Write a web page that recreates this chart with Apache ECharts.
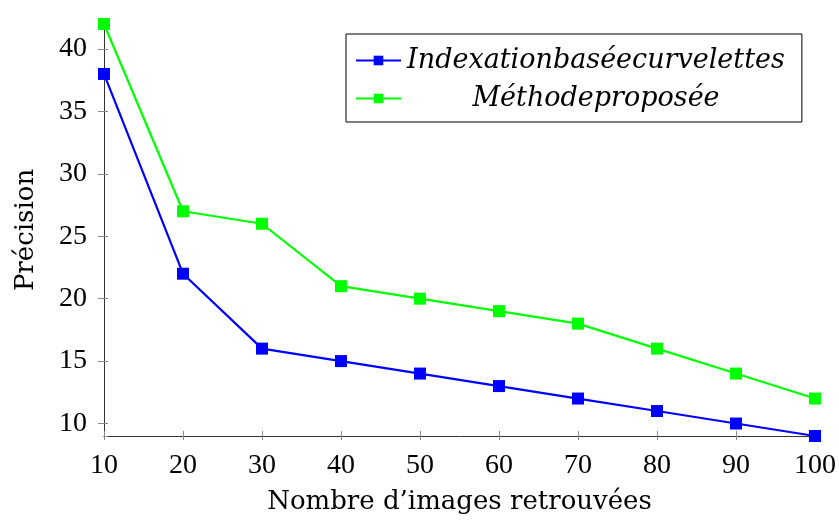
<!DOCTYPE html>
<html>
<head>
<meta charset="utf-8">
<script src="https://cdn.jsdelivr.net/npm/echarts@6/dist/echarts.min.js"></script>
<style>
  html, body { margin: 0; padding: 0; background: #fff; }
  #chart { width: 839px; height: 520px; }
</style>
</head>
<body>
<div id="chart"></div>
<script>
// Number of retrieved images (x) and precision values for each method
const retrieved = [10, 20, 30, 40, 50, 60, 70, 80, 90, 100];
const curveletPrecision = [38, 22, 16, 15, 14, 13, 12, 11, 10, 9];
const proposedPrecision = [42, 27, 26, 21, 20, 19, 18, 16, 14, 12];
const seriesNames = ['Indexationbaséecurvelettes', 'Méthodeproposée'];
const xTitle = 'Nombre d\u2019images retrouvées';
const yTitle = 'Précision';

const serif = '"Liberation Serif", serif';
const wideSerif = '"DejaVu Serif", serif';
const axisColor = '#333';
const tickColor = '#888';

function pairs(xs, ys) { return xs.map((x, i) => [x, ys[i]]); }

const chart = echarts.init(document.getElementById('chart'), null, { renderer: 'canvas' });

const xCommon = { type: 'value', min: 10, max: 100, interval: 10, splitLine: { show: false } };
const yCommon = { type: 'value', min: 9, max: 42, splitNumber: 7, splitLine: { show: false } };

chart.setOption({
  animation: false,
  backgroundColor: '#fff',
  grid: { left: 104, right: 24, top: 24, bottom: 84, containLabel: false, outerBoundsMode: 'none' },
  legend: {
    orient: 'vertical',
    left: 346,
    top: 34,
    padding: [13, 17, 10, 9],
    itemGap: 11,
    itemWidth: 45,
    itemHeight: 12,
    borderColor: '#000',
    borderWidth: 1,
    backgroundColor: '#fff',
    data: seriesNames,
    formatter: name => '{t|' + name + '}',
    textStyle: {
      rich: {
        t: {
          width: 380,
          align: 'center',
          fontFamily: wideSerif,
          fontStyle: 'italic',
          fontSize: 27,
          color: '#000'
        }
      }
    }
  },
  xAxis: [
    Object.assign({}, xCommon, {
      position: 'bottom',
      name: xTitle,
      nameLocation: 'middle',
      nameGap: 53,
      nameTextStyle: { fontFamily: wideSerif, fontSize: 26, color: '#000' },
      axisLine: { show: true, onZero: false, lineStyle: { color: axisColor, width: 1 } },
      axisTick: { show: true, inside: false, length: 4, lineStyle: { color: tickColor } },
      axisLabel: { fontFamily: serif, fontSize: 28, color: '#000', margin: 16 }
    }),
    Object.assign({}, xCommon, {
      position: 'bottom',
      axisLine: { show: false, onZero: false },
      axisTick: { show: true, inside: true, length: 5, lineStyle: { color: tickColor } },
      axisLabel: { show: false }
    })
  ],
  yAxis: [
    Object.assign({}, yCommon, {
      position: 'left',
      name: yTitle,
      nameLocation: 'middle',
      nameGap: 65,
      nameRotate: 90,
      nameTextStyle: { fontFamily: wideSerif, fontSize: 26, color: '#000' },
      axisLine: { show: true, onZero: false, lineStyle: { color: axisColor, width: 1 } },
      axisTick: { show: true, inside: false, length: 6, lineStyle: { color: tickColor } },
      axisLabel: { fontFamily: serif, fontSize: 28, color: '#000', margin: 17, showMinLabel: false, showMaxLabel: false }
    }),
    Object.assign({}, yCommon, {
      position: 'left',
      axisLine: { show: false, onZero: false },
      axisTick: { show: true, inside: true, length: 4, lineStyle: { color: tickColor } },
      axisLabel: { show: false }
    })
  ],
  series: [
    {
      name: seriesNames[0],
      type: 'line',
      data: pairs(retrieved, curveletPrecision),
      color: '#0000ff',
      lineStyle: { width: 2.2 },
      symbol: 'rect',
      symbolSize: 12,
      showAllSymbol: true,
      clip: false,
      z: 3
    },
    {
      name: seriesNames[1],
      type: 'line',
      data: pairs(retrieved, proposedPrecision),
      color: '#00ff00',
      lineStyle: { width: 2.2 },
      symbol: 'rect',
      symbolSize: 12,
      showAllSymbol: true,
      clip: false,
      z: 4
    }
  ]
});
</script>
</body>
</html>
